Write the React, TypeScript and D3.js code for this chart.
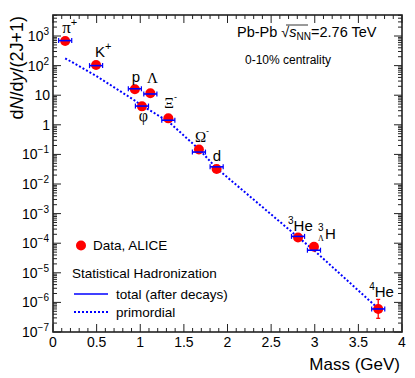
import React from "react";
import * as d3 from "d3";

const particles = ["pi", "K", "p", "phi", "Lambda", "Xi", "Omega", "d", "He3", "H3L", "He4"];
const masses = [0.1396, 0.4937, 0.9383, 1.0195, 1.1157, 1.3217, 1.6725, 1.8756, 2.8084, 2.991, 3.7274];
const dataValues = [680, 105, 16, 4.2, 11.6, 1.65, 0.146, 0.032, 1.55e-4, 7.6e-5, 6e-7];
const totalModel = [700, 100, 16.5, 4.3, 11, 1.43, 0.12, 0.038, 1.7e-4, 5.8e-5, 6e-7];
const primordial = [177, 45, 6.6, 4.4, 3.0, 1.3, 0.15, 0.034, 1.6e-4, 5.8e-5, 6.2e-7];
const he4ErrLow = 2.9e-7;
const he4ErrHigh = 1.26e-6;
const xTicks = [0, 0.5, 1, 1.5, 2, 2.5, 3, 3.5, 4];
const xTickLabels = ["0", "0.5", "1", "1.5", "2", "2.5", "3", "3.5", "4"];
const yExponents = [3, 2, 1, 0, -1, -2, -3, -4, -5, -6, -7];

const W = 415, H = 378;
const L = 53, R = 402, T = 15, B = 332;
const SANS = "'Liberation Sans', Arial, Helvetica, sans-serif";
const SERIF = "'Liberation Serif', 'Times New Roman', serif";
const BLUE = "#0000ff";
const RED = "#ff0000";

export default function App() {
  const x = d3.scaleLinear().domain([0, 4]).range([L, R]);
  const y = d3.scaleLog().domain([1e-7, Math.pow(10, 3.71)]).range([B, T]);

  const dotted = d3.line<number>()
    .x((_, i) => x(masses[i]))
    .y((v) => y(v))(primordial) as string;

  const minorX: number[] = d3.range(0, 4.0001, 0.1).map((v) => +v.toFixed(2));
  const minorY: number[] = [];
  for (let e = -7; e <= 3; e++) {
    for (let k = 2; k <= 9; k++) {
      const v = k * Math.pow(10, e);
      if (v < Math.pow(10, 3.71)) minorY.push(v);
    }
  }

  const hw = 0.075;
  const lbl = (i: number) => ({ px: x(masses[i]), py: y(dataValues[i]) });

  return (
    <svg width={W} height={H} style={{ position: "absolute", left: 0, top: 0, background: "#fff" }}>
      <rect x={0} y={0} width={W} height={H} fill="#fff" />
      {/* primordial dotted line */}
      <path d={dotted} fill="none" stroke={BLUE} strokeWidth={2} strokeDasharray="2 2" />

      {/* 4He error bar */}
      <g stroke={RED} strokeWidth={1.3}>
        <line x1={x(masses[10])} x2={x(masses[10])} y1={y(he4ErrLow)} y2={y(he4ErrHigh)} />
        <line x1={x(masses[10]) - 2} x2={x(masses[10]) + 2} y1={y(he4ErrLow)} y2={y(he4ErrLow)} />
        <line x1={x(masses[10]) - 2} x2={x(masses[10]) + 2} y1={y(he4ErrHigh)} y2={y(he4ErrHigh)} />
      </g>

      {/* data points */}
      {dataValues.map((v, i) => (
        <circle key={"d" + i} cx={x(masses[i])} cy={y(v)} r={5} fill={RED} />
      ))}

      {/* total model bars */}
      {totalModel.map((v, i) => {
        const x1 = x(masses[i] - hw), x2 = x(masses[i] + hw), yy = y(v);
        return (
          <g key={"t" + i} stroke={BLUE} strokeWidth={1.6}>
            <line x1={x1} x2={x2} y1={yy} y2={yy} />
            <line x1={x1} x2={x1} y1={yy - 2.5} y2={yy + 2.5} strokeWidth={1.2} />
            <line x1={x2} x2={x2} y1={yy - 2.5} y2={yy + 2.5} strokeWidth={1.2} />
          </g>
        );
      })}

      {/* frame */}
      <rect x={L} y={T} width={R - L} height={B - T} fill="none" stroke="#222" strokeWidth={1.6} />

      {/* ticks */}
      <g stroke="#222" strokeWidth={1}>
        {minorX.map((v, i) => {
          const major = Math.abs(v * 2 - Math.round(v * 2)) < 1e-6;
          const len = major ? 8 : 4;
          return (
            <g key={"xt" + i}>
              <line x1={x(v)} x2={x(v)} y1={B} y2={B - len} />
              <line x1={x(v)} x2={x(v)} y1={T} y2={T + len} />
            </g>
          );
        })}
        {yExponents.map((e) => (
          <g key={"ym" + e}>
            <line x1={L} x2={L + 8} y1={y(Math.pow(10, e))} y2={y(Math.pow(10, e))} />
            <line x1={R} x2={R - 8} y1={y(Math.pow(10, e))} y2={y(Math.pow(10, e))} />
          </g>
        ))}
        {minorY.map((v, i) => (
          <g key={"yn" + i}>
            <line x1={L} x2={L + 4} y1={y(v)} y2={y(v)} />
            <line x1={R} x2={R - 4} y1={y(v)} y2={y(v)} />
          </g>
        ))}
      </g>

      {/* x tick labels */}
      <g fontFamily={SANS} fontSize={14} fill="#000" textAnchor="middle">
        {xTicks.map((v, i) => (
          <text key={"xl" + i} x={x(v)} y={347}>{xTickLabels[i]}</text>
        ))}
      </g>

      {/* y tick labels */}
      <g fontFamily={SANS} fill="#000" textAnchor="end">
        {yExponents.map((e) => {
          const yy = y(Math.pow(10, e)) + 5;
          if (e === 0) return <text key={"yl" + e} x={50} y={yy} fontSize={14}>1</text>;
          if (e === 1) return <text key={"yl" + e} x={50} y={yy} fontSize={14}>10</text>;
          const sup = e < 0 ? "\u2212" + Math.abs(e) : String(e);
          return (
            <text key={"yl" + e} x={49} y={yy} fontSize={14}>
              10<tspan fontSize={10} dy={-6}>{sup}</tspan>
            </text>
          );
        })}
      </g>

      {/* axis titles */}
      <text x={400} y={370} textAnchor="end" fontFamily={SANS} fontSize={17}>Mass (GeV)</text>
      <text transform="translate(23,16) rotate(-90)" textAnchor="end" fontFamily={SANS} fontSize={18}>
        d<tspan fontStyle="italic">N</tspan>/d<tspan fontStyle="italic">y</tspan>/(2J+1)
      </text>

      {/* header */}
      <text x={237} y={37} fontFamily={SANS} fontSize={14.5}>
        Pb-Pb <tspan>{"\u221A"}</tspan><tspan fontStyle="italic">s</tspan>
        <tspan fontSize={10} dy={3}>NN</tspan><tspan dy={-3}>=2.76 TeV</tspan>
      </text>
      <line x1={286} x2={308} y1={25} y2={25} stroke="#000" strokeWidth={0.8} />
      <text x={245} y={64} fontFamily={SANS} fontSize={12}>0-10% centrality</text>

      {/* particle labels */}
      <g fontFamily={SANS} fontSize={15} fill="#000">
        <text x={lbl(0).px - 3} y={lbl(0).py - 8} fontFamily={SERIF} fontSize={17}>
          {"\u03C0"}<tspan fontFamily={SANS} fontSize={11} dy={-7}>+</tspan>
        </text>
        <text x={lbl(1).px - 1} y={lbl(1).py - 8}>
          K<tspan fontSize={11} dy={-7}>+</tspan>
        </text>
        <text x={lbl(2).px + 1} y={lbl(2).py - 7} textAnchor="middle">p</text>
        <text x={lbl(4).px + 2} y={lbl(4).py - 10} textAnchor="middle" fontFamily={SERIF} fontSize={15}>{"\u039B"}</text>
        <text x={lbl(3).px + 1.5} y={lbl(3).py + 15} textAnchor="middle" fontFamily={SERIF} fontSize={16}>{"\u03C6"}</text>
        <text x={lbl(5).px - 4} y={lbl(5).py - 10} fontFamily={SERIF} fontSize={15}>
          {"\u039E"}<tspan fontFamily={SANS} fontSize={9} dy={-8}>-</tspan>
        </text>
        <text x={lbl(6).px - 4} y={lbl(6).py - 8} fontFamily={SERIF} fontSize={15}>
          {"\u03A9"}<tspan fontFamily={SANS} fontSize={9} dy={-8}>-</tspan>
        </text>
        <text x={lbl(7).px - 4} y={lbl(7).py - 8}>d</text>
        <text x={lbl(8).px - 10} y={lbl(8).py - 7}>
          <tspan fontSize={10} dy={-7}>3</tspan><tspan dy={7}>He</tspan>
        </text>
        <text x={lbl(9).px + 4} y={lbl(9).py - 16} fontSize={10}>3</text>
        <text x={lbl(9).px + 4} y={lbl(9).py - 6} fontSize={8} fontFamily={SERIF}>{"\u039B"}</text>
        <text x={lbl(9).px + 11} y={lbl(9).py - 8}>H</text>
        <text x={lbl(10).px - 9} y={lbl(10).py - 12}>
          <tspan fontSize={10} dy={-7}>4</tspan><tspan dy={7}>He</tspan>
        </text>
      </g>

      {/* legend */}
      <g fontFamily={SANS} fontSize={13.5} fill="#000">
        <circle cx={81} cy={245.5} r={5} fill={RED} />
        <text x={93} y={250}>Data, ALICE</text>
        <text x={72} y={278}>Statistical Hadronization</text>
        <line x1={74} x2={108} y1={294} y2={294} stroke={BLUE} strokeWidth={1.6} />
        <text x={116} y={299}>total (after decays)</text>
        <line x1={74} x2={108} y1={312} y2={312} stroke={BLUE} strokeWidth={2} strokeDasharray="2 2" />
        <text x={116} y={317}>primordial</text>
      </g>
    </svg>
  );
}
